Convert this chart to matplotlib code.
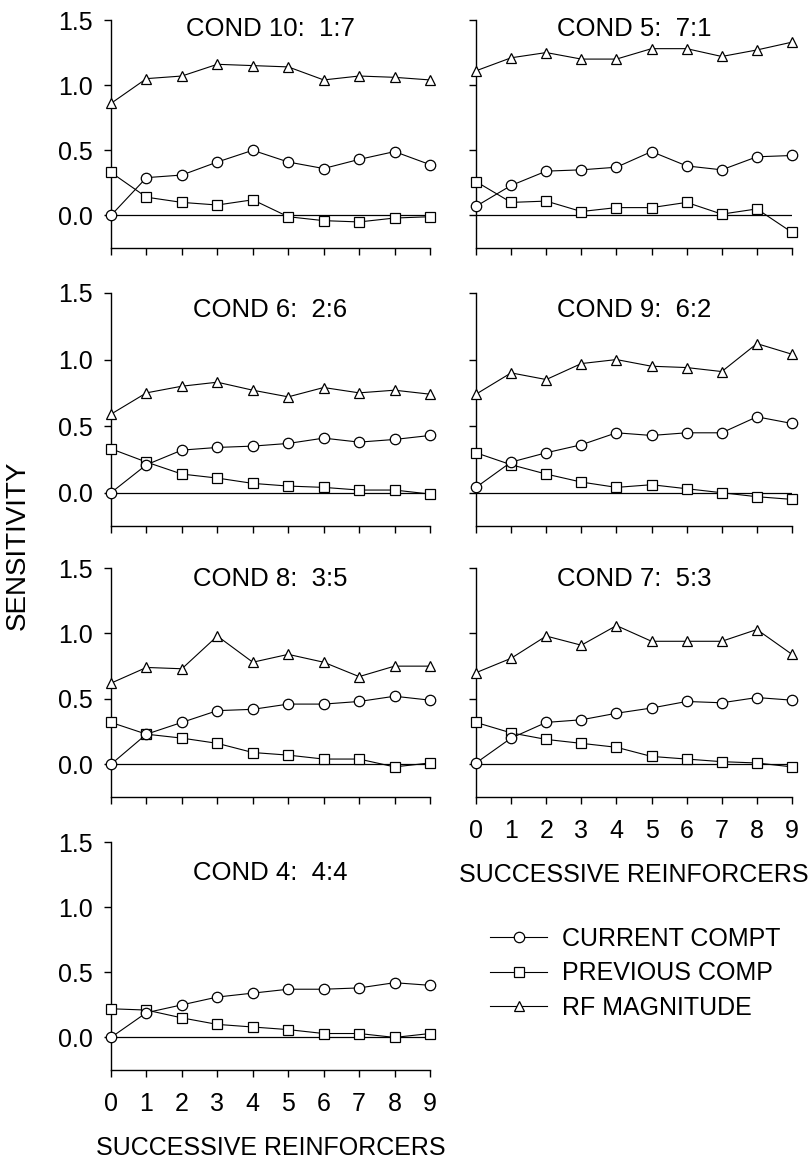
import matplotlib
matplotlib.use("Agg")
import matplotlib.pyplot as plt
from matplotlib.lines import Line2D

plt.rcParams['font.family'] = ['Liberation Sans', 'DejaVu Sans']

reinforcers = [0, 1, 2, 3, 4, 5, 6, 7, 8, 9]

titles = ["COND 10:  1:7", "COND 5:  7:1", "COND 6:  2:6", "COND 9:  6:2",
          "COND 8:  3:5", "COND 7:  5:3", "COND 4:  4:4"]

current_compt = [
    [0.00, 0.29, 0.31, 0.41, 0.50, 0.41, 0.36, 0.43, 0.49, 0.39],
    [0.07, 0.23, 0.34, 0.35, 0.37, 0.49, 0.38, 0.35, 0.45, 0.46],
    [0.00, 0.21, 0.32, 0.34, 0.35, 0.37, 0.41, 0.38, 0.40, 0.43],
    [0.04, 0.23, 0.30, 0.36, 0.45, 0.43, 0.45, 0.45, 0.57, 0.52],
    [0.00, 0.23, 0.32, 0.41, 0.42, 0.46, 0.46, 0.48, 0.52, 0.49],
    [0.01, 0.20, 0.32, 0.34, 0.39, 0.43, 0.48, 0.47, 0.51, 0.49],
    [0.00, 0.19, 0.25, 0.31, 0.34, 0.37, 0.37, 0.38, 0.42, 0.40],
]

previous_comp = [
    [0.33, 0.14, 0.10, 0.08, 0.12, -0.01, -0.04, -0.05, -0.02, -0.01],
    [0.26, 0.10, 0.11, 0.03, 0.06, 0.06, 0.10, 0.01, 0.05, -0.13],
    [0.33, 0.23, 0.14, 0.11, 0.07, 0.05, 0.04, 0.02, 0.02, -0.01],
    [0.30, 0.21, 0.14, 0.08, 0.04, 0.06, 0.03, 0.00, -0.03, -0.05],
    [0.32, 0.23, 0.20, 0.16, 0.09, 0.07, 0.04, 0.04, -0.02, 0.01],
    [0.32, 0.24, 0.19, 0.16, 0.13, 0.06, 0.04, 0.02, 0.01, -0.02],
    [0.22, 0.21, 0.15, 0.10, 0.08, 0.06, 0.03, 0.03, 0.00, 0.03],
]

rf_magnitude = [
    [0.86, 1.05, 1.07, 1.16, 1.15, 1.14, 1.04, 1.07, 1.06, 1.04],
    [1.11, 1.21, 1.25, 1.20, 1.20, 1.28, 1.28, 1.22, 1.27, 1.33],
    [0.59, 0.75, 0.80, 0.83, 0.77, 0.72, 0.79, 0.75, 0.77, 0.74],
    [0.74, 0.90, 0.85, 0.97, 1.00, 0.95, 0.94, 0.91, 1.12, 1.04],
    [0.62, 0.74, 0.73, 0.98, 0.78, 0.84, 0.78, 0.67, 0.75, 0.75],
    [0.70, 0.81, 0.98, 0.91, 1.06, 0.94, 0.94, 0.94, 1.03, 0.84],
    None,
]

series_labels = ["CURRENT COMPT", "PREVIOUS COMP", "RF MAGNITUDE"]
ytick_vals = [0.0, 0.5, 1.0, 1.5]
ytick_labels = ["0.0", "0.5", "1.0", "1.5"]

W, H = 812, 1160
fig = plt.figure(figsize=(W / 100, H / 100), dpi=100)

rows_px = [(20, 248), (293, 526), (568, 797), (842, 1070)]
cols_px = [(111, 430), (476, 792)]
title_frac = [0.962, 0.927, 0.952, 0.862]
placement = [(0, 0), (0, 1), (1, 0), (1, 1), (2, 0), (2, 1), (3, 0)]
xlabel_panels = {5, 6}

FS = 18
for i, (r, c) in enumerate(placement):
    top, bot = rows_px[r]
    left, right = cols_px[c]
    ax = fig.add_axes([left / W, 1 - bot / H, (right - left) / W, (bot - top) / H])
    ax.set_xlim(0, 9)
    ax.set_ylim(-0.25, 1.5)
    for s in ['top', 'right']:
        ax.spines[s].set_visible(False)
    for s in ['left', 'bottom']:
        ax.spines[s].set_linewidth(1.0)
    ax.axhline(0, color='black', lw=0.9, zorder=1)
    ax.set_xticks(reinforcers)
    ax.set_yticks(ytick_vals)
    ax.tick_params(direction='out', length=5, width=1, labelsize=FS)
    ax.tick_params(axis='y', pad=8)
    ax.tick_params(axis='x', pad=11)
    if c == 0:
        ax.set_yticklabels(ytick_labels)
    else:
        ax.set_yticklabels([])
    if i in xlabel_panels:
        ax.set_xticklabels([str(v) for v in reinforcers])
        ax.set_xlabel("SUCCESSIVE REINFORCERS", fontsize=FS, labelpad=14)
    else:
        ax.set_xticklabels([])
    kw = dict(color='black', lw=0.8, mfc='white', mec='black', mew=0.9, clip_on=False)
    ax.plot(reinforcers, current_compt[i], marker='o', ms=7.5, zorder=4, **kw)
    ax.plot(reinforcers, previous_comp[i], marker='s', ms=6.5, zorder=3, **kw)
    if rf_magnitude[i] is not None:
        ax.plot(reinforcers, rf_magnitude[i], marker='^', ms=7.5, zorder=5, **kw)
    ax.text(0.5, title_frac[r], titles[i], transform=ax.transAxes,
            ha='center', va='center', fontsize=18.5)

fig.text(18 / W, 1 - 545 / H, "SENSITIVITY", rotation=90, ha='center', va='center', fontsize=20)

hkw = dict(color='black', lw=0.8, mfc='white', mec='black', mew=0.9)
handles = [Line2D([], [], marker='o', ms=7.5, **hkw),
           Line2D([], [], marker='s', ms=6.5, **hkw),
           Line2D([], [], marker='^', ms=7.5, **hkw)]
fig.legend(handles, series_labels, loc='upper left', bbox_to_anchor=(490 / W, 1 - 927 / H),
           frameon=False, fontsize=FS, handlelength=2.3, handletextpad=0.6,
           labelspacing=0.42, borderpad=0, borderaxespad=0)

fig.savefig("out.png", dpi=100)
